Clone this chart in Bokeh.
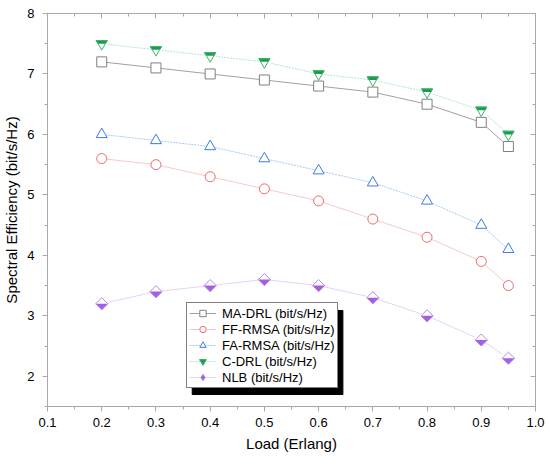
import numpy as np
from bokeh.plotting import figure
from bokeh.models import (LinearAxis, FixedTicker, Legend, LegendItem, BoxAnnotation,
                          CustomJSTickFormatter, Range1d)
from bokeh.embed import file_html
from bokeh.resources import INLINE

# ---- data ----
load = [0.2, 0.3, 0.4, 0.5, 0.6, 0.7, 0.8, 0.9, 0.95]
ma_drl = [7.2, 7.1, 7.0, 6.9, 6.8, 6.7, 6.5, 6.2, 5.8]
ff_rmsa = [5.6, 5.5, 5.3, 5.1, 4.9, 4.6, 4.3, 3.9, 3.5]
fa_rmsa = [6.0, 5.9, 5.8, 5.6, 5.4, 5.2, 4.9, 4.5, 4.1]
c_drl = [7.5, 7.4, 7.3, 7.2, 7.0, 6.9, 6.7, 6.4, 6.0]
nlb = [3.2, 3.4, 3.5, 3.6, 3.5, 3.3, 3.0, 2.6, 2.3]

series_labels = ["MA-DRL (bit/s/Hz)", "FF-RMSA (bit/s/Hz)", "FA-RMSA (bit/s/Hz)",
                 "C-DRL (bit/s/Hz)", "NLB (bit/s/Hz)"]
x_ticks = [0.1, 0.2, 0.3, 0.4, 0.5, 0.6, 0.7, 0.8, 0.9, 1.0]
x_tick_labels = ["0.1", "0.2", "0.3", "0.4", "0.5", "0.6", "0.7", "0.8", "0.9", "1.0"]
x_minor = [0.15, 0.25, 0.35, 0.45, 0.55, 0.65, 0.75, 0.85, 0.95]
y_ticks = [2, 3, 4, 5, 6, 7, 8]
y_minor = [1.5, 2.5, 3.5, 4.5, 5.5, 6.5, 7.5]

FONT = "Liberation Sans"
AX = "#a8a8a8"

X0, X1, Y0, Y1 = 0.1, 1.0, 1.5, 8.0
W, H = 550, 464
BL, BR, BT, BB = 46, 15, 13, 58

p = figure(width=W, height=H, x_range=Range1d(X0, X1), y_range=Range1d(Y0, Y1),
           output_backend="svg", toolbar_location=None,
           min_border_left=BL, min_border_right=BR, min_border_top=BT, min_border_bottom=BB)
p.background_fill_color = "white"
p.border_fill_color = "white"
p.outline_line_color = AX
p.xgrid.visible = False
p.ygrid.visible = False

xt = FixedTicker(ticks=x_ticks, minor_ticks=x_minor)
yt = FixedTicker(ticks=y_ticks, minor_ticks=y_minor)

for ax in (p.xaxis[0], p.yaxis[0]):
    ax.axis_line_color = AX
    ax.major_tick_line_color = AX
    ax.minor_tick_line_color = AX
    ax.major_tick_out = 5
    ax.major_tick_in = 0
    ax.minor_tick_out = 3
    ax.minor_tick_in = 0
    ax.major_label_text_font = FONT
    ax.major_label_text_font_size = "13px"
    ax.major_label_text_color = "black"
    ax.axis_label_text_font = FONT
    ax.axis_label_text_font_size = "15px"
    ax.axis_label_text_font_style = "normal"
    ax.axis_label_text_color = "black"

p.xaxis[0].ticker = xt
p.yaxis[0].ticker = yt
p.xaxis[0].major_label_overrides = {t: s for t, s in zip(x_ticks, x_tick_labels)}
p.yaxis[0].major_label_overrides = {t: str(t) for t in y_ticks}
p.xaxis[0].axis_label = "Load (Erlang)"
p.yaxis[0].axis_label = "Spectral Efficiency (bit/s/Hz)"
p.xaxis[0].major_label_standoff = 6
p.xaxis[0].axis_label_standoff = 5
p.yaxis[0].major_label_standoff = 8
p.yaxis[0].axis_label_standoff = 4

for loc, tk in (("above", xt), ("right", yt)):
    a = LinearAxis(ticker=tk, formatter=CustomJSTickFormatter(code="return ''"),
                   major_tick_in=5, major_tick_out=0, minor_tick_in=3, minor_tick_out=0,
                   major_label_text_font_size="0px", major_label_standoff=0,
                   axis_line_color=AX, major_tick_line_color=AX, minor_tick_line_color=AX)
    p.add_layout(a, loc)

# ---- lines ----
l_ma = p.line(load, ma_drl, line_color="#a0a0a0", line_width=1)
l_ff = p.line(load, ff_rmsa, line_color="#f8c8c8", line_width=1)
l_fa = p.line(load, fa_rmsa, line_color="#a8c8f4", line_width=1, line_dash="2 1")
l_c = p.line(load, c_drl, line_color="#b0e4d8", line_width=1, line_dash="2 1")
l_n = p.line(load, nlb, line_color="#e4d4f8", line_width=1)

# ---- markers ----
m_ff = p.scatter(load, ff_rmsa, marker="circle", size=10, fill_color="white",
                 line_color="#f06a6a", line_width=1)
m_fa = p.scatter(load, fa_rmsa, marker="triangle", size=11, fill_color="white",
                 line_color="#3d7be8", line_width=1)

# NLB: diamond with bottom half filled
# (narrow diamond underneath, used for the legend glyph; fully covered on the plot)
n_leg = p.scatter(load, nlb, marker="diamond", size=11,
                  fill_color="#a35fe0", line_color="#b888f0", line_width=1)
p.scatter(load, nlb, marker="square", angle=np.pi / 4, size=8.5,
          fill_color="#a35fe0", line_color="#a35fe0", line_width=1)
p.ray(load, nlb, length=6.5, length_units="screen", angle=np.pi / 2,
      line_color="white", line_width=13)
p.scatter(load, nlb, marker="square", angle=np.pi / 4, size=8.5,
          fill_color=None, line_color="#b888f0", line_width=1)

# C-DRL: inverted triangle with top half filled
m_c_fill = p.scatter(load, c_drl, marker="inverted_triangle", size=11,
                     fill_color="#1e9a4c", line_color="#1e9a4c", line_width=1)
p.ray(load, c_drl, length=7, length_units="screen", angle=-np.pi / 2,
      line_color="white", line_width=12)
m_c_out = p.scatter(load, c_drl, marker="inverted_triangle", size=11,
                    fill_color=None, line_color="#3cb86a", line_width=1)

m_ma = p.scatter(load, ma_drl, marker="square", size=10, fill_color="white",
                 line_color="#808080", line_width=1)

# ---- legend (pixel placement inside the frame) with a drop shadow ----
LEG_X, LEG_Y = 139, 18          # legend bottom-left, px from frame bottom-left
LEG_W, LEG_H = 151, 84          # approx legend box size, px
SH = 6                          # shadow offset, px
fw = W - BL - BR
fh = H - BT - BB
px_x = (X1 - X0) / fw
px_y = (Y1 - Y0) / fh
shadow = BoxAnnotation(left=X0 + (LEG_X + SH) * px_x,
                       right=X0 + (LEG_X + SH + LEG_W) * px_x,
                       bottom=Y0 + (LEG_Y - SH) * px_y,
                       top=Y0 + (LEG_Y - SH + LEG_H) * px_y,
                       fill_color="black", fill_alpha=1.0, line_color="black", line_alpha=1.0)
p.add_layout(shadow)

items = [
    LegendItem(label=series_labels[0], renderers=[l_ma, m_ma]),
    LegendItem(label=series_labels[1], renderers=[l_ff, m_ff]),
    LegendItem(label=series_labels[2], renderers=[l_fa, m_fa]),
    LegendItem(label=series_labels[3], renderers=[l_c, m_c_fill, m_c_out]),
    LegendItem(label=series_labels[4], renderers=[l_n, n_leg]),
]
legend = Legend(items=items, location=(LEG_X, LEG_Y), margin=0, padding=2, spacing=0,
                label_height=16, glyph_height=16, glyph_width=27, label_standoff=6,
                label_text_font=FONT, label_text_font_size="13px", label_text_color="black",
                border_line_color="black", border_line_width=1,
                background_fill_color="white", background_fill_alpha=1.0)
p.add_layout(legend, "center")

open("out.html", "w").write(file_html(p, INLINE))
